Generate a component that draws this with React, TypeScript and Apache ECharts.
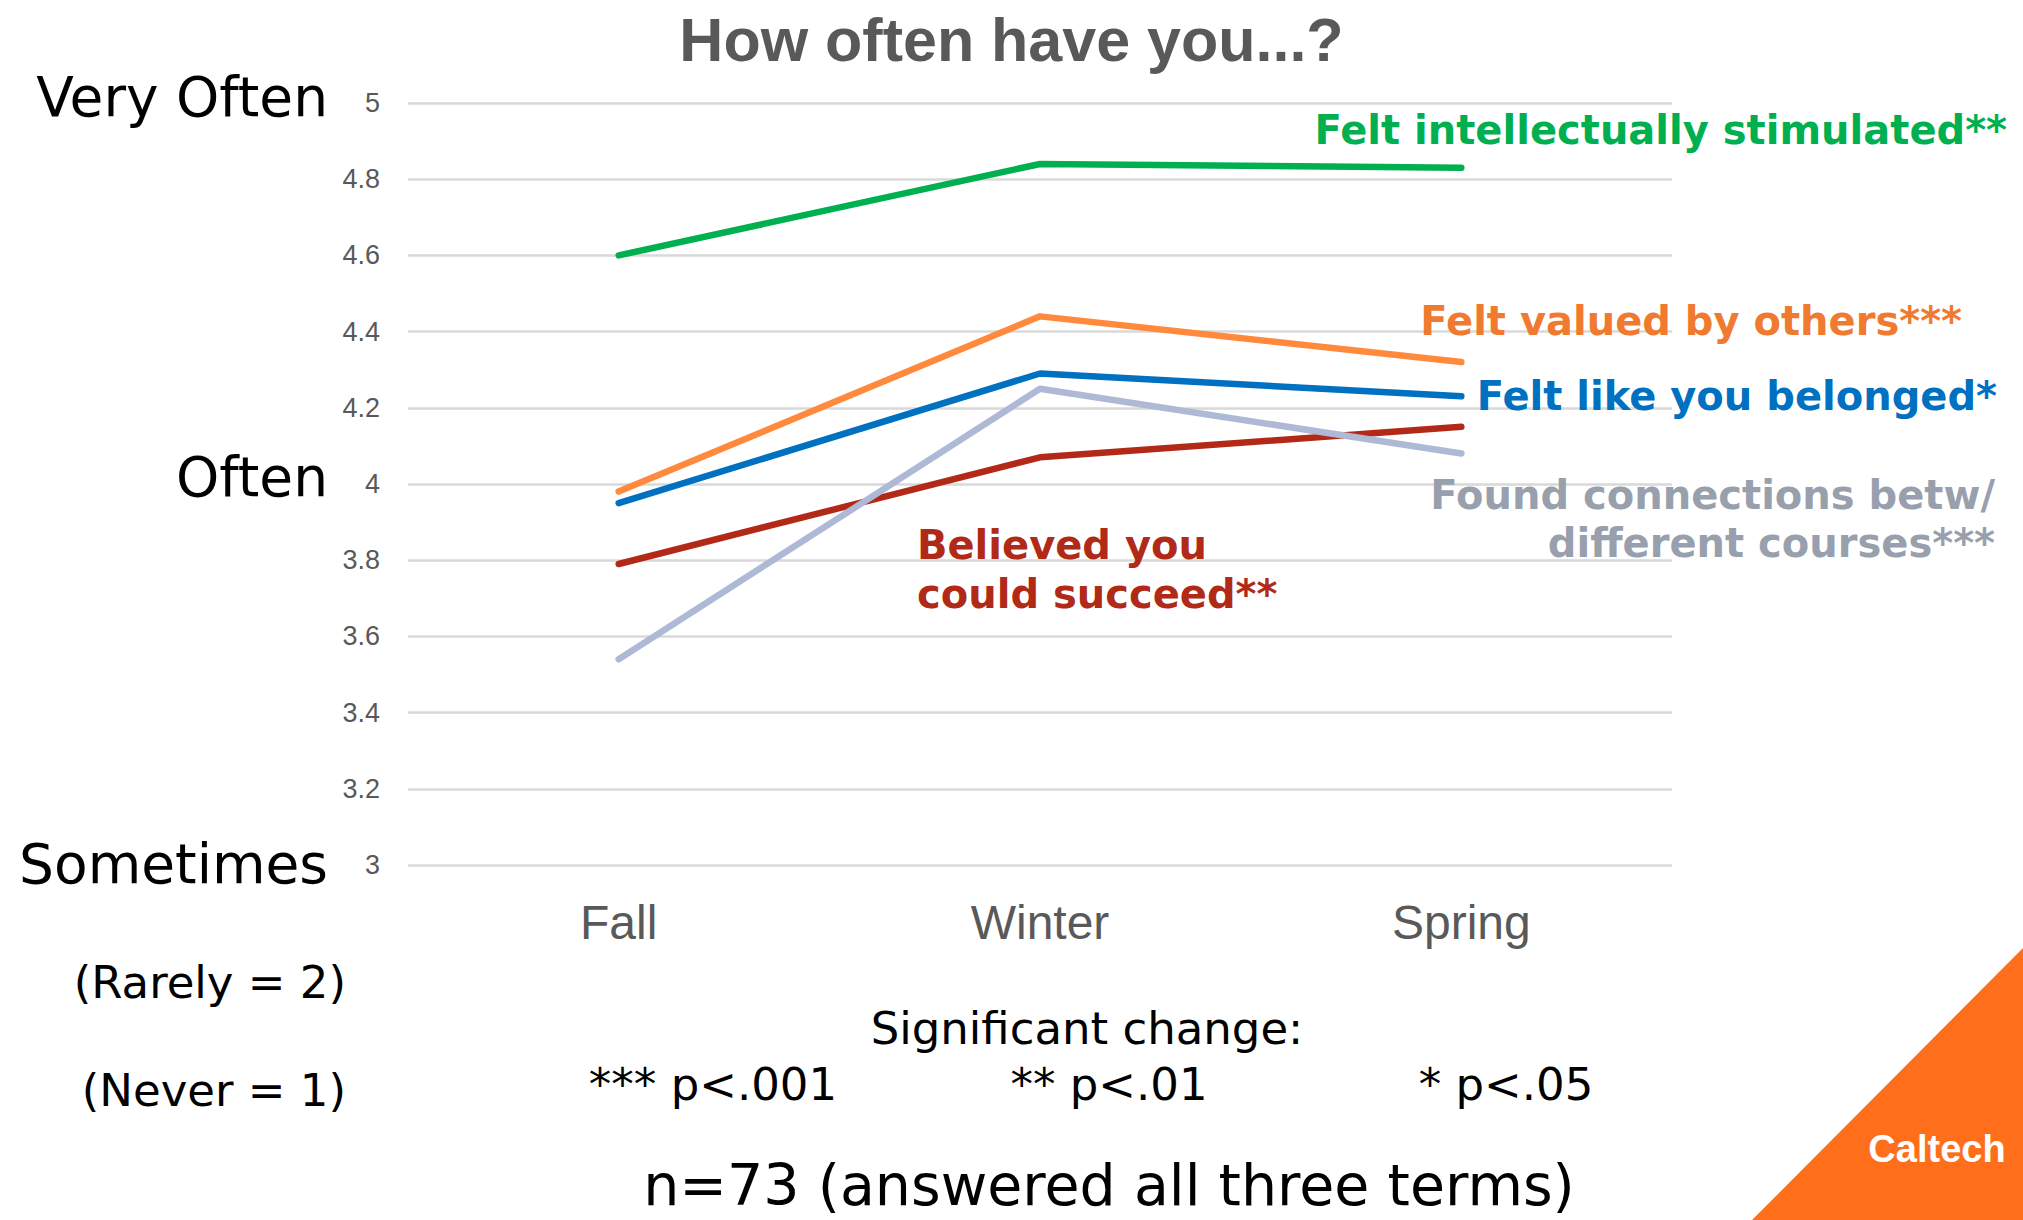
import React, { useEffect, useRef } from "react";
import * as echarts from "echarts";

const terms = ["Fall", "Winter", "Spring"];
const yTicks = { min: 3, max: 5, interval: 0.2 };

const stimulated = [4.6, 4.84, 4.83];
const valued = [3.98, 4.44, 4.32];
const belonged = [3.95, 4.29, 4.23];
const succeed = [3.79, 4.07, 4.15];
const connections = [3.54, 4.25, 4.08];

const seriesNames = [
  "Felt intellectually stimulated**",
  "Felt valued by others***",
  "Felt like you belonged*",
  "Believed you\ncould succeed**",
  "Found connections betw/\ndifferent courses***",
];

const scaleLabels = ["Very Often", "Often", "Sometimes"];
const extraLabels = ["(Rarely = 2)", "(Never = 1)"];
const sigLabels = ["*** p<.001", "** p<.01", "* p<.05"];

export default function App() {
  const ref = useRef<HTMLDivElement>(null);
  useEffect(() => {
    if (!ref.current) return;
    const chart = echarts.init(ref.current, null, { renderer: "svg" });
    const sans = '"DejaVu Sans", Verdana, sans-serif';
    const arial = '"Liberation Sans", Arial, sans-serif';
    const mk = (name: string, data: number[], color: string) => ({
      name,
      type: "line",
      data,
      symbol: "none",
      lineStyle: { color, width: 6.5, cap: "round", join: "round" },
      itemStyle: { color },
      z: 3,
    });
    const txt = (
      text: string,
      x: number,
      y: number,
      size: number,
      color: string,
      align: string,
      weight = "normal",
      family = sans,
      lineHeight?: number
    ) => ({
      type: "text",
      x,
      y,
      z: 10,
      style: {
        text,
        fill: color,
        fontSize: size,
        fontFamily: family,
        fontWeight: weight,
        align,
        verticalAlign: "middle",
        lineHeight: lineHeight ?? Math.round(size * 1.2),
      },
    });
    chart.setOption({
      animation: false,
      backgroundColor: "#ffffff",
      title: {
        text: "How often have you...?",
        left: "center",
        top: 4,
        textStyle: { fontFamily: arial, fontWeight: "bold", fontSize: 61, color: "#595959" },
      },
      grid: { left: 408, right: 351, top: 103, bottom: 355 },
      xAxis: {
        type: "category",
        data: terms,
        boundaryGap: true,
        axisLine: { show: false },
        axisTick: { show: false },
        axisLabel: { fontFamily: arial, fontSize: 48, color: "#595959", margin: 33 },
      },
      yAxis: {
        type: "value",
        min: yTicks.min,
        max: yTicks.max,
        interval: yTicks.interval,
        axisLine: { show: false },
        axisTick: { show: false },
        axisLabel: { fontFamily: arial, fontSize: 27, color: "#595959", margin: 28 },
        splitLine: { lineStyle: { color: "#D9D9D9", width: 2.5 } },
      },
      series: [
        mk(seriesNames[0], stimulated, "#00B050"),
        mk(seriesNames[1], valued, "#FF8A3D"),
        mk(seriesNames[2], belonged, "#0070C0"),
        mk(seriesNames[3], succeed, "#B22A17"),
        mk(seriesNames[4], connections, "#AEB9D6"),
      ],
      graphic: [
        txt(seriesNames[0], 2007, 130, 40, "#00B050", "right", "bold"),
        txt(seriesNames[1], 1962, 321, 40, "#F07A30", "right", "bold"),
        txt(seriesNames[2], 1997, 396, 40, "#0070C0", "right", "bold"),
        txt(seriesNames[3], 917, 569, 40, "#B02A17", "left", "bold", sans, 49),
        txt(seriesNames[4], 1995, 519, 40, "#98A0AE", "right", "bold", sans, 48),
        txt(scaleLabels[0], 328, 97, 55, "#000000", "right"),
        txt(scaleLabels[1], 328, 477, 55, "#000000", "right"),
        txt(scaleLabels[2], 328, 864, 55, "#000000", "right"),
        txt(extraLabels[0], 346, 982, 45, "#000000", "right"),
        txt(extraLabels[1], 346, 1090, 45, "#000000", "right"),
        txt("Significant change:", 1087, 1028, 45, "#000000", "center"),
        txt(sigLabels[0], 713, 1084, 45, "#000000", "center"),
        txt(sigLabels[1], 1109, 1084, 45, "#000000", "center"),
        txt(sigLabels[2], 1506, 1084, 45, "#000000", "center"),
        txt("n=73 (answered all three terms)", 1109, 1185, 57, "#000000", "center", "normal", sans, 56),
        {
          type: "polygon",
          z: 5,
          shape: { points: [[2023, 948], [2023, 1220], [1752, 1220]] },
          style: { fill: "#FF6E1A" },
        },
        txt("Caltech", 1937, 1149, 38, "#ffffff", "center", "bold", arial),
      ],
    });
    return () => chart.dispose();
  }, []);
  return (
    <div
      ref={ref}
      style={{ position: "fixed", left: 0, top: 0, width: 2023, height: 1220, background: "#fff" }}
    />
  );
}
